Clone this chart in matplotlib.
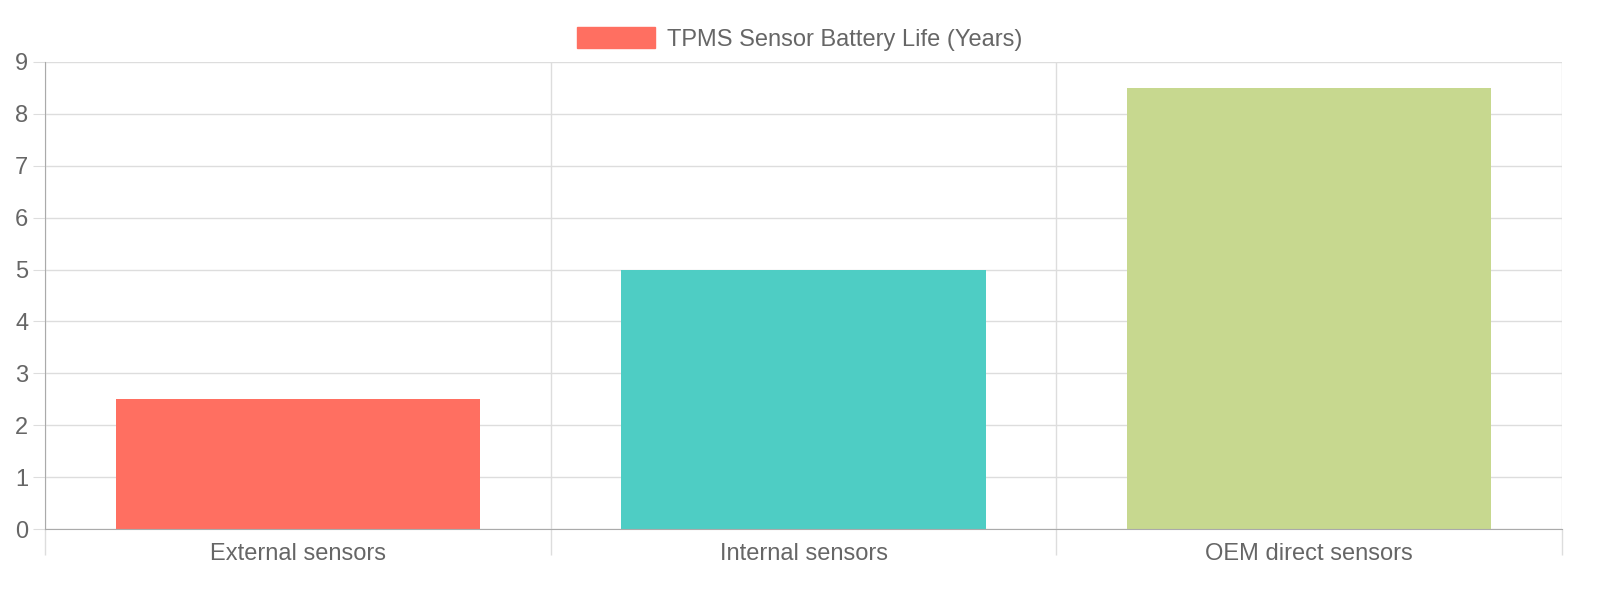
import matplotlib.pyplot as plt
import numpy as np

categories = ["External sensors", "Internal sensors", "OEM direct sensors"]
battery_life = [2.5, 5, 8.5]
bar_colors = ["#FF6F61", "#4ECDC4", "#C7D88F"]
series_label = "TPMS Sensor Battery Life (Years)"

plt.rcParams["font.family"] = ["Liberation Sans", "DejaVu Sans"]

fig = plt.figure(figsize=(16, 6), dpi=100)
ax = fig.add_axes([45 / 1600, 71 / 600, 1517 / 1600, 467 / 600])

x = np.arange(len(categories))
ax.bar(x, battery_life, width=0.72, color=bar_colors, zorder=2)

ax.set_xlim(-0.5, len(categories) - 0.5)
ax.set_ylim(0, 9)
ax.set_yticks(range(0, 10))
ax.set_xticks(x)
ax.set_xticklabels(categories)
ax.set_xticks(np.arange(-0.5, len(categories)), minor=True)

grid_c = "#DDDDDD"
ax.grid(axis="y", color=grid_c, linewidth=1, zorder=0)
ax.grid(axis="x", which="minor", color=grid_c, linewidth=1, zorder=0)
ax.tick_params(axis="x", which="major", length=0, pad=10, labelsize=17, labelcolor="#666666")
ax.tick_params(axis="x", which="minor", length=19, color=grid_c, width=1)
ax.tick_params(axis="y", length=9, color=grid_c, pad=3, labelsize=17, labelcolor="#666666")

for side in ["top", "right"]:
    ax.spines[side].set_visible(False)
ax.spines["left"].set_color("#AAAAAA")
ax.spines["bottom"].set_color("#AAAAAA")

handle = plt.Rectangle((0, 0), 1, 1, color=bar_colors[0])
fig.legend([handle], [series_label], loc="upper center", bbox_to_anchor=(0.5, 0.99),
           frameon=False, fontsize=17, labelcolor="#666666",
           handlelength=3.3, handleheight=1.0, handletextpad=0.5)

fig.savefig("out.png", dpi=100)
